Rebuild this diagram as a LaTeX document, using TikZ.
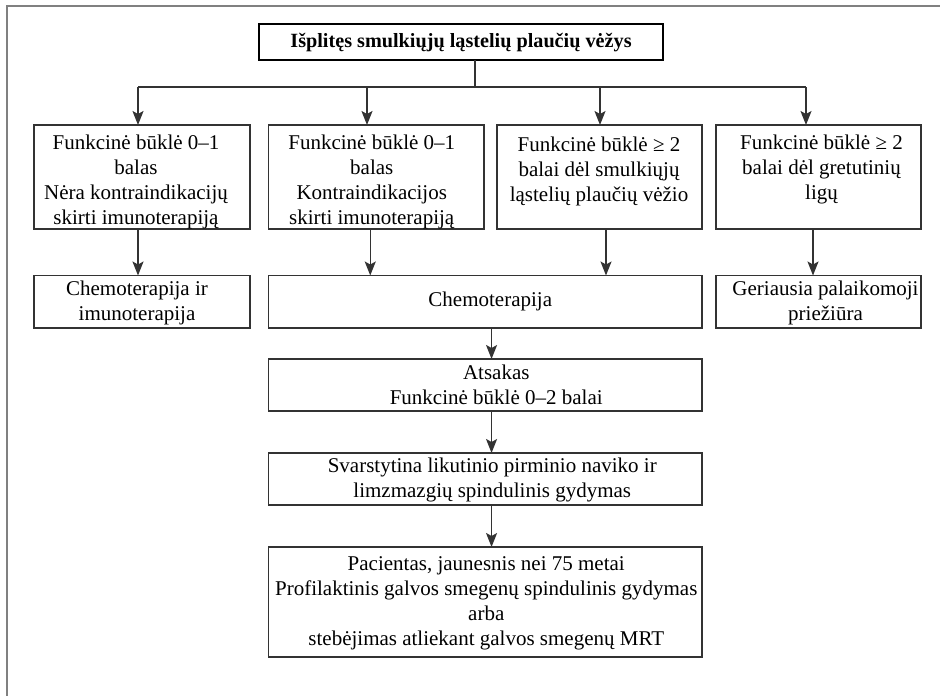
\documentclass[tikz,border=0pt]{standalone}
\usepackage{fontspec}
\setmainfont{Liberation Serif}
\usetikzlibrary{arrows.meta}
\begin{document}
\begin{tikzpicture}[x=1pt,y=-1pt,
  box/.style={draw=black!80, line width=1.3pt, rectangle, inner sep=0pt, outer sep=0pt, anchor=north west},
  titlebox/.style={box, draw=black, line width=1.9pt},
  txt/.style={align=center, inner sep=0pt, font=\fontsize{21}{25}\selectfont},
  titletxt/.style={txt, font=\fontsize{20.2}{24}\selectfont\bfseries},
  link/.style={draw=black!80, line width=1.3pt},
  arr/.style={link, -{Stealth[length=14pt,width=11pt,inset=3pt]}},
  frame/.style={draw=black!50, line width=2pt}
]
\useasboundingbox (0,0) rectangle (940,696);
% page frame (top and left edges)
\draw[frame] (945,5.7) -- (6.7,5.7) -- (6.7,700);

% title
\node[titlebox, minimum width=404pt, minimum height=36pt] (title) at (259,24) {};
\node[titletxt] (titleT) at ([yshift=-1pt]title.center) {Išplitęs smulkiųjų ląstelių plaučių vėžys};

% first row
\node[box, minimum width=216pt, minimum height=104pt] (b1) at (34,125) {};
\node[box, minimum width=215.5pt, minimum height=104pt] (b2) at (268.5,125) {};
\node[box, minimum width=205pt, minimum height=104pt] (b3) at (497,125) {};
\node[box, minimum width=205pt, minimum height=104pt] (b4) at (716,125) {};
\node[txt, anchor=north] (b1T) at ([xshift=-6pt,yshift=-10pt]b1.north) {Funkcinė būklė 0–1\\balas\\Nėra kontraindikacijų\\skirti imunoterapiją};
\node[txt, anchor=north] (b2T) at ([xshift=-4.5pt,yshift=-10pt]b2.north) {Funkcinė būklė 0–1\\balas\\Kontraindikacijos\\skirti imunoterapiją};
\node[txt, anchor=north] (b3T) at ([xshift=-0.5pt,yshift=-12pt]b3.north) {Funkcinė būklė ≥ 2\\balai dėl smulkiųjų\\ląstelių plaučių vėžio};
\node[txt, anchor=north] (b4T) at ([xshift=3pt,yshift=-10pt]b4.north) {Funkcinė būklė ≥ 2\\balai dėl gretutinių\\ligų};

% second row
\node[box, minimum width=216pt, minimum height=52.5pt] (c1) at (34,275.5) {};
\node[box, minimum width=433.5pt, minimum height=52.5pt] (chemo) at (268.5,275.5) {};
\node[box, minimum width=205pt, minimum height=52.5pt] (c4) at (716,275.5) {};
\node[txt] (c1T) at ([xshift=-5pt,yshift=-1.5pt]c1.center) {Chemoterapija ir\\imunoterapija};
\node[txt] (chemoT) at ([xshift=5pt]chemo.center) {Chemoterapija};
\node[txt] (c4T) at ([xshift=7pt,yshift=-1.5pt]c4.center) {Geriausia palaikomoji\\priežiūra};

% lower chain
\node[box, minimum width=433.5pt, minimum height=52pt] (resp) at (268.5,359) {};
\node[box, minimum width=433.5pt, minimum height=52pt] (rt) at (268.5,453) {};
\node[box, minimum width=433.5pt, minimum height=110pt] (pci) at (268.5,547) {};
\node[txt] (respT) at ([xshift=11pt]resp.center) {Atsakas\\Funkcinė būklė 0–2 balai};
\node[txt] (rtT) at ([xshift=7pt,yshift=-1pt]rt.center) {Svarstytina likutinio pirminio naviko ir\\limzmazgių spindulinis gydymas};
\node[txt] (pciT) at ([xshift=1pt,yshift=-1pt]pci.center) {Pacientas, jaunesnis nei 75 metai\\Profilaktinis galvos smegenų spindulinis gydymas\\arba\\stebėjimas atliekant galvos smegenų MRT};

% branching from the title
\coordinate (j)  at (475,87);
\coordinate (h1) at (138,87);
\coordinate (h2) at (367,87);
\coordinate (h3) at (600,87);
\coordinate (h4) at (806,87);
\draw[link] (title.south -| j) -- (j);
\draw[link] (h1) -- (h4);
\draw[arr] (h1) -- (h1 |- b1.north);
\draw[arr] (h2) -- (h2 |- b2.north);
\draw[arr] (h3) -- (h3 |- b3.north);
\draw[arr] (h4) -- (h4 |- b4.north);

% first row to second row
\draw[arr] ([xshift=-4pt]b1.south) -- ([xshift=-4pt]b1.south |- c1.north);
\draw[arr] ([xshift=-6pt]b2.south) -- ([xshift=-6pt]b2.south |- chemo.north);
\draw[arr] ([xshift=6.5pt]b3.south) -- ([xshift=6.5pt]b3.south |- chemo.north);
\draw[arr] ([xshift=-5.5pt]b4.south) -- ([xshift=-5.5pt]b4.south |- c4.north);

% chain below chemotherapy
\draw[arr] ([xshift=6.3pt]chemo.south) -- ([xshift=6.3pt]chemo.south |- resp.north);
\draw[arr] ([xshift=6.3pt]resp.south) -- ([xshift=6.3pt]resp.south |- rt.north);
\draw[arr] ([xshift=6.3pt]rt.south) -- ([xshift=6.3pt]rt.south |- pci.north);
\end{tikzpicture}
\end{document}
